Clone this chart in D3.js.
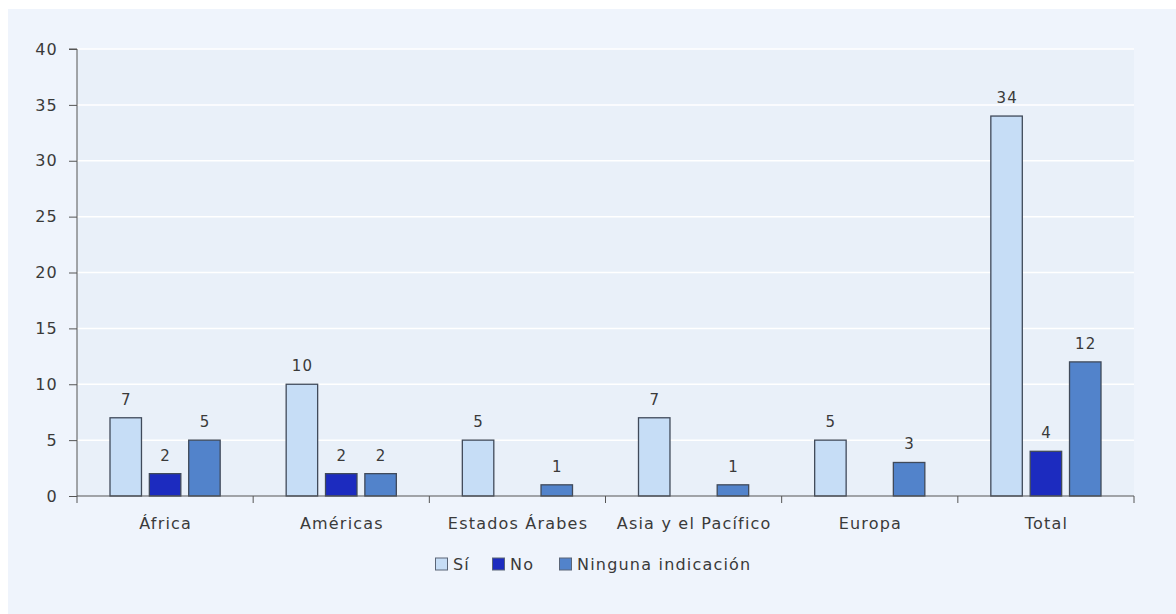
<!DOCTYPE html>
<meta charset="utf-8">
<script src="https://d3js.org/d3.v7.min.js"></script>
<style>
    body { margin: 0; background: #ffffff; }
    text { font-family: "DejaVu Sans", Verdana, sans-serif; letter-spacing: 1.2px; }
</style>
<div id="my_chart"><svg></svg></div>
<script>
    // data
    var categories = ["África", "Américas", "Estados Árabes", "Asia y el Pacífico", "Europa", "Total"];
    var series = ["Sí", "No", "Ninguna indicación"];
    var si = [7, 10, 5, 7, 5, 34];
    var no = [2, 2, 0, 0, 0, 4];
    var ninguna = [5, 2, 1, 1, 3, 12];
    var yTicks = [0, 5, 10, 15, 20, 25, 30, 35, 40];

    var colors = ["#c6ddf6", "#1c2bbf", "#5283cb"];

    var W = 1176, H = 614;
    var margin = {top: 49, right: 42, bottom: 118, left: 77},
        width = W - margin.left - margin.right,
        height = H - margin.top - margin.bottom;

    var root = d3.select("#my_chart").select("svg")
        .attr("width", W)
        .attr("height", H);

    // outer panel
    root.append("rect")
        .attr("x", 8).attr("y", 9)
        .attr("width", W - 8).attr("height", H - 9)
        .attr("fill", "#eff4fc");

    var svg = root.append("g")
        .attr("transform", "translate(" + margin.left + "," + margin.top + ")");

    // plot area
    svg.append("rect")
        .attr("width", width).attr("height", height)
        .attr("fill", "#e9f0f9");

    var data = categories.map(function(c, i) {
        return {cat: c, values: [si[i], no[i], ninguna[i]]};
    });

    var x0 = d3.scaleBand().domain(categories).range([0, width]).padding(0);
    var inset = 33;
    var x1 = d3.scaleBand().domain(d3.range(series.length))
        .range([inset, x0.bandwidth() - inset]).paddingInner(0.2);
    var y = d3.scaleLinear().domain([0, 40]).range([height, 0]);

    // white gridlines
    svg.append("g")
        .selectAll("line")
        .data(yTicks.filter(function(d) { return d > 0; }))
        .enter().append("line")
        .attr("x1", 0).attr("x2", width)
        .attr("y1", function(d) { return y(d); })
        .attr("y2", function(d) { return y(d); })
        .attr("stroke", "#ffffff")
        .attr("stroke-width", 1.5);

    // bars
    var groups = svg.append("g")
        .selectAll("g")
        .data(data)
        .enter().append("g")
        .attr("transform", function(d) { return "translate(" + x0(d.cat) + ",0)"; });

    groups.selectAll("rect")
        .data(function(d) { return d.values.map(function(v, i) { return {i: i, v: v}; }); })
        .enter().filter(function(d) { return d.v > 0; })
        .append("rect")
        .attr("x", function(d) { return x1(d.i); })
        .attr("y", function(d) { return y(d.v); })
        .attr("width", x1.bandwidth())
        .attr("height", function(d) { return height - y(d.v); })
        .attr("fill", function(d) { return colors[d.i]; })
        .attr("stroke", "#404a5a")
        .attr("stroke-width", 1.3);

    // value labels
    groups.selectAll("text.val")
        .data(function(d) { return d.values.map(function(v, i) { return {i: i, v: v}; }); })
        .enter().filter(function(d) { return d.v > 0; })
        .append("text")
        .attr("class", "val")
        .attr("x", function(d) { return x1(d.i) + x1.bandwidth() / 2 + 0.6; })
        .attr("y", function(d) { return y(d.v) - 13; })
        .attr("text-anchor", "middle")
        .style("font-size", "15px")
        .attr("fill", "#3a3a3a")
        .text(function(d) { return d.v; });

    // Y axis
    var yAxis = svg.append("g")
        .call(d3.axisLeft(y).tickValues(yTicks).tickSize(8).tickPadding(11));
    yAxis.selectAll("text").style("font-size", "16px").attr("fill", "#3a3a3a");
    yAxis.selectAll("line, path").attr("stroke", "#555");
    yAxis.select(".domain").attr("d", "M-8," + y(40) + "H0V" + height);

    // X axis with ticks between categories
    var xAxis = svg.append("g")
        .attr("transform", "translate(0," + height + ")");
    xAxis.append("line")
        .attr("x1", 0).attr("x2", width)
        .attr("stroke", "#555");
    xAxis.selectAll("line.tk")
        .data(d3.range(categories.length + 1))
        .enter().append("line")
        .attr("class", "tk")
        .attr("x1", function(i) { return i * x0.step(); })
        .attr("x2", function(i) { return i * x0.step(); })
        .attr("y1", 0).attr("y2", 7)
        .attr("stroke", "#555");
    xAxis.selectAll("text")
        .data(categories)
        .enter().append("text")
        .attr("x", function(d) { return x0(d) + x0.bandwidth() / 2 + 0.6; })
        .attr("y", 33)
        .attr("text-anchor", "middle")
        .style("font-size", "16px")
        .attr("fill", "#3a3a3a")
        .text(function(d) { return d; });

    // legend
    var legend = root.append("g").attr("transform", "translate(435,564)");
    var offsets = [0, 57, 124];
    series.forEach(function(s, i) {
        var g = legend.append("g").attr("transform", "translate(" + offsets[i] + ",0)");
        g.append("rect")
            .attr("x", 0.5).attr("y", -6)
            .attr("width", 12).attr("height", 12)
            .attr("fill", colors[i])
            .attr("stroke", "#5a6577");
        g.append("text")
            .attr("x", 18).attr("y", 6)
            .style("font-size", "16px")
            .attr("fill", "#3a3a3a")
            .text(s);
    });
</script>
